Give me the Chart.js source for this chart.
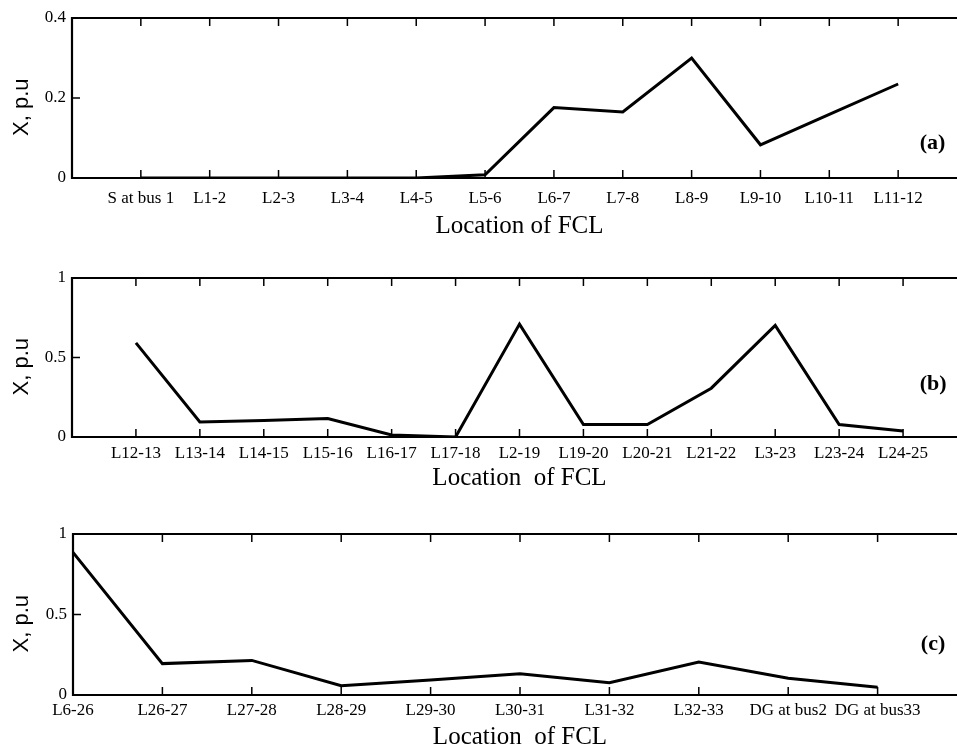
<!DOCTYPE html>
<html>
<head>
<meta charset="utf-8">
<script src="https://cdn.jsdelivr.net/npm/chart.js@4.4.1/dist/chart.umd.min.js"></script>
<style>
    html, body { margin: 0; padding: 0; background: #fff; overflow: hidden; width: 957px; height: 748px; }
    .panel { position: absolute; left: 0; width: 967px; }
</style>
</head>
<body>
<div class="panel" style="top:0px;height:241px"><canvas id="chartA"></canvas></div>
<div class="panel" style="top:260px;height:233px"><canvas id="chartB"></canvas></div>
<div class="panel" style="top:500px;height:252px"><canvas id="chartC"></canvas></div>

<script>
// panel (a)
const labelsA = ['S at bus 1', 'L1-2', 'L2-3', 'L3-4', 'L4-5', 'L5-6', 'L6-7', 'L7-8', 'L8-9', 'L9-10', 'L10-11', 'L11-12'];
const valuesA = [0, 0, 0, 0, 0, 0.008, 0.176, 0.165, 0.300, 0.083, 0.159, 0.235];
const yTicksA = [0, 0.2, 0.4];

// panel (b)
const labelsB = ['L12-13', 'L13-14', 'L14-15', 'L15-16', 'L16-17', 'L17-18', 'L2-19', 'L19-20', 'L20-21', 'L21-22', 'L3-23', 'L23-24', 'L24-25'];
const valuesB = [0.592, 0.095, 0.103, 0.116, 0.013, 0, 0.710, 0.078, 0.078, 0.307, 0.702, 0.078, 0.038];
const yTicksB = [0, 0.5, 1];

// panel (c)
const labelsC = ['L6-26', 'L26-27', 'L27-28', 'L28-29', 'L29-30', 'L30-31', 'L31-32', 'L32-33', 'DG at bus2', 'DG at bus33'];
const valuesC = [0.886, 0.195, 0.215, 0.058, 0.093, 0.132, 0.076, 0.205, 0.104, 0.048];
const yTicksC = [0, 0.5, 1];

const serif = "'Liberation Serif', 'Times New Roman', serif";

// box + inward tick marks, matlab style
const framePlugin = {
    id: 'frame',
    afterDraw(chart, args, opts) {
        const ctx = chart.ctx;
        const area = chart.chartArea;
        const xs = chart.scales.x;
        const ys = chart.scales.y;
        ctx.save();
        ctx.strokeStyle = '#000';
        ctx.lineWidth = 1.5;
        ctx.beginPath();
        xs.ticks.forEach(t => {
            const px = xs.getPixelForValue(t.value);
            ctx.moveTo(px, area.bottom);
            ctx.lineTo(px, area.bottom - 8);
            ctx.moveTo(px, area.top);
            ctx.lineTo(px, area.top + 8);
        });
        ys.ticks.forEach(t => {
            const py = ys.getPixelForValue(t.value);
            ctx.moveTo(area.left, py);
            ctx.lineTo(area.left + 8, py);
        });
        ctx.stroke();

        ctx.lineWidth = 2.2;
        ctx.beginPath();
        ctx.moveTo(area.right, area.top);
        ctx.lineTo(area.left, area.top);
        ctx.lineTo(area.left, area.bottom);
        ctx.lineTo(area.right, area.bottom);
        ctx.stroke();

        // panel tag
        ctx.fillStyle = '#000';
        ctx.font = 'bold 22px ' + serif;
        ctx.textAlign = 'center';
        ctx.textBaseline = 'middle';
        ctx.fillText(opts.tag, xs.getPixelForValue(opts.tagX), ys.getPixelForValue(opts.tagY));
        ctx.restore();
    }
};

function makePanel(id, labels, values, yTicks, cfg)
{
    const points = values.map((v, i) => ({ x: i + cfg.start, y: v }));

    new Chart(document.getElementById(id), {
        type: 'line',
        data: {
            datasets: [{
                data: points,
                borderColor: '#000',
                borderWidth: 3,
                pointRadius: 0,
                tension: 0
            }]
        },
        options: {
            responsive: true,
            maintainAspectRatio: false,
            animation: false,
            layout: { padding: { top: cfg.top, right: 0, left: 0, bottom: 0 } },
            plugins: {
                legend: { display: false },
                tooltip: { enabled: false },
                frame: { tag: cfg.tag, tagX: cfg.tagX, tagY: cfg.tagY }
            },
            scales: {
                x: {
                    type: 'linear',
                    min: 0,
                    max: cfg.xMax,
                    grid: { display: false, drawTicks: false },
                    border: { display: false },
                    afterBuildTicks: (scale) => {
                        scale.ticks = labels.map((l, i) => ({ value: i + cfg.start }));
                    },
                    afterFit: (scale) => { scale.height = cfg.xHeight; },
                    ticks: {
                        autoSkip: false,
                        maxRotation: 0,
                        padding: cfg.tickPad,
                        color: '#000',
                        font: { family: serif, size: 17 },
                        callback: (value) => labels[value - cfg.start]
                    },
                    title: {
                        display: true,
                        text: cfg.xTitle,
                        color: '#000',
                        font: { family: serif, size: 25, lineHeight: 1.2 },
                        padding: { top: 0, bottom: 0 }
                    }
                },
                y: {
                    min: 0,
                    max: yTicks[yTicks.length - 1],
                    grid: { display: false, drawTicks: false },
                    border: { display: false },
                    afterBuildTicks: (scale) => {
                        scale.ticks = yTicks.map(v => ({ value: v }));
                    },
                    afterFit: (scale) => { scale.width = cfg.yWidth; },
                    ticks: {
                        padding: 6,
                        color: '#000',
                        font: { family: serif, size: 17 },
                        callback: (value) => String(value)
                    },
                    title: {
                        display: true,
                        text: 'X, p.u\u00a0\u00a0\u00a0',
                        color: '#000',
                        font: { family: "'Liberation Sans', Arial, sans-serif", size: 22, lineHeight: 1.2 },
                        padding: { top: 9, bottom: 0 }
                    }
                }
            }
        },
        plugins: [framePlugin]
    });
}

makePanel('chartA', labelsA, valuesA, yTicksA, {
    start: 1, xMax: 13, top: 18, xHeight: 63, yWidth: 72, tickPad: 10,
    xTitle: 'Location of FCL', tag: '(a)', tagX: 12.5, tagY: 0.087
});

makePanel('chartB', labelsB, valuesB, yTicksB, {
    start: 1, xMax: 14, top: 18, xHeight: 56, yWidth: 72, tickPad: 6,
    xTitle: 'Location  of FCL', tag: '(b)', tagX: 13.47, tagY: 0.33
});

makePanel('chartC', labelsC, valuesC, yTicksC, {
    start: 0, xMax: 10, top: 34, xHeight: 57, yWidth: 73, tickPad: 5,
    xTitle: 'Location  of FCL', tag: '(c)', tagX: 9.62, tagY: 0.317
});
</script>
</body>
</html>
